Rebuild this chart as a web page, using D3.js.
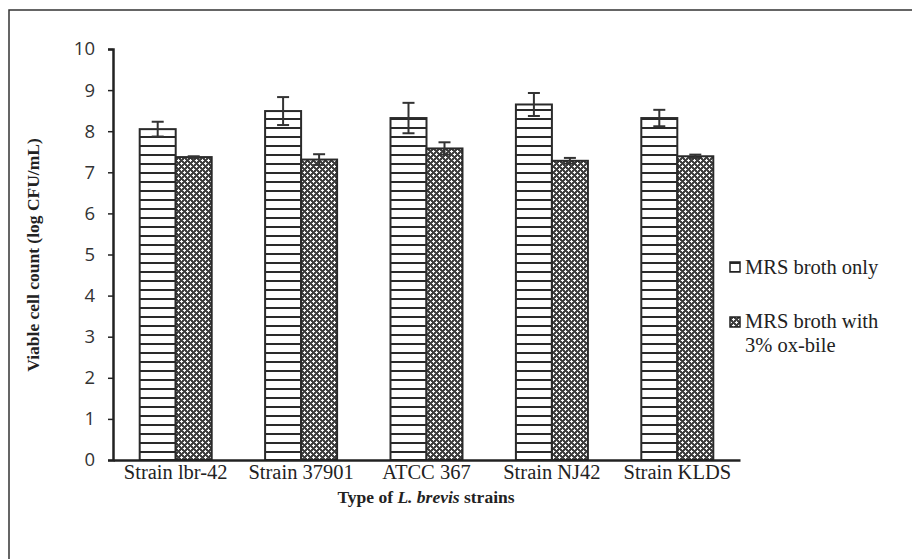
<!DOCTYPE html>
<html><head><meta charset="utf-8">
<script src="https://cdn.jsdelivr.net/npm/d3@7"></script>
<style>body{margin:0;background:#fff}</style>
</head><body>
<svg id="c" width="912" height="559"></svg>
<script>
const categories = ["Strain lbr-42", "Strain 37901", "ATCC 367", "Strain NJ42", "Strain KLDS"];
const mrsValues = [8.05, 8.49, 8.32, 8.65, 8.32];
const mrsErrors = [0.18, 0.34, 0.37, 0.28, 0.2];
const bileValues = [7.37, 7.31, 7.58, 7.28, 7.39];
const bileErrors = [0.02, 0.13, 0.15, 0.07, 0.04];
const yTicks = [0,1,2,3,4,5,6,7,8,9,10];
const seriesNames = ["MRS broth only", "MRS broth with 3% ox-bile"];

const svg = d3.select("#c");
const mLeft = 113, mRight = 740, mTop = 49, mBottom = 460;

// outer frame
svg.append("rect").attr("x",9).attr("y",10).attr("width",950).attr("height",600)
  .attr("fill","none").attr("stroke","#333").attr("stroke-width",1.5);

const defs = svg.append("defs");
const hp = defs.append("pattern").attr("id","hstripe").attr("patternUnits","userSpaceOnUse")
  .attr("width",8).attr("height",9).attr("y", mBottom);
hp.append("rect").attr("width",8).attr("height",9).attr("fill","#fff");
hp.append("rect").attr("y",0).attr("width",8).attr("height",2).attr("fill","#2a2a2a");

const cp = defs.append("pattern").attr("id","cross").attr("patternUnits","userSpaceOnUse")
  .attr("width",6).attr("height",6);
cp.append("rect").attr("width",6).attr("height",6).attr("fill","#3c3c3c");
[[1.5,1.5],[4.5,4.5]].forEach(([a,b])=>{
  cp.append("rect").attr("x",a-1.6).attr("y",b-0.5).attr("width",3.2).attr("height",1).attr("fill","#f4f4f4");
  cp.append("rect").attr("x",a-0.5).attr("y",b-1.6).attr("width",1).attr("height",3.2).attr("fill","#f4f4f4");
  cp.append("circle").attr("cx",a).attr("cy",b).attr("r",0.9).attr("fill","#fff");
});

const x = d3.scaleBand().domain(categories).range([mLeft,mRight]);
const y = d3.scaleLinear().domain([0,10]).range([mBottom,mTop]);
const bw = 36;

const yAxis = d3.axisLeft(y).tickValues(yTicks).tickSize(5).tickPadding(13).tickFormat(d3.format("d"));
const gy = svg.append("g").attr("transform",`translate(${mLeft},0)`).call(yAxis);
gy.select(".domain").attr("stroke","#222").attr("stroke-width",2.5);
gy.selectAll(".tick line").attr("stroke","#222").attr("stroke-width",1.5);
gy.selectAll(".tick text").attr("font-family","'Open Sans', sans-serif").attr("font-size",18.5).attr("fill","#333");

const g = svg.append("g");
categories.forEach((c,i)=>{
  const cx = x(c) + x.bandwidth()/2;
  g.append("rect").attr("x",cx-bw).attr("y",y(mrsValues[i])).attr("width",bw)
    .attr("height",y(0)-y(mrsValues[i])).attr("fill","url(#hstripe)").attr("stroke","#2a2a2a").attr("stroke-width",2);
  g.append("rect").attr("x",cx).attr("y",y(bileValues[i])).attr("width",bw)
    .attr("height",y(0)-y(bileValues[i])).attr("fill","url(#cross)").attr("stroke","#2a2a2a").attr("stroke-width",2);
  [[cx-bw/2, mrsValues[i], mrsErrors[i]],[cx+bw/2, bileValues[i], bileErrors[i]]].forEach(([ex,v,e])=>{
    g.append("line").attr("x1",ex).attr("x2",ex).attr("y1",y(v+e)).attr("y2",y(v-e)).attr("stroke","#333").attr("stroke-width",2);
    [v+e,v-e].forEach(t=>g.append("line").attr("x1",ex-6).attr("x2",ex+6).attr("y1",y(t)).attr("y2",y(t)).attr("stroke","#333").attr("stroke-width",2));
  });
});

const xAxis = d3.axisBottom(x).tickSize(0).tickPadding(4);
const gx = svg.append("g").attr("transform",`translate(0,${mBottom})`).call(xAxis);
gx.select(".domain").attr("stroke","#222").attr("stroke-width",2.5);
gx.selectAll(".tick text").attr("font-family","'Liberation Serif', serif").attr("font-size",20.5).attr("fill","#222");

svg.append("text").attr("x",426).attr("y",503).attr("text-anchor","middle")
  .attr("font-family","'Liberation Serif', serif").attr("font-weight","bold").attr("font-size",17.5).attr("fill","#222")
  .html('Type of <tspan font-style="italic">L. brevis</tspan> strains');

svg.append("text").attr("transform","translate(39,255) rotate(-90)").attr("text-anchor","middle")
  .attr("font-family","'Liberation Serif', serif").attr("font-weight","bold").attr("font-size",17.5).attr("fill","#222")
  .text("Viable cell count (log CFU/mL)");

// legend
const lg = svg.append("g").attr("font-family","'Liberation Serif', serif").attr("font-size",20.5).attr("fill","#222");
lg.append("rect").attr("x",730).attr("y",262).attr("width",10).attr("height",10).attr("fill","url(#hstripe)").attr("stroke","#222").attr("stroke-width",1.5);
lg.append("text").attr("x",745).attr("y",274).text(seriesNames[0]);
lg.append("rect").attr("x",730).attr("y",317).attr("width",10).attr("height",10).attr("fill","url(#cross)").attr("stroke","#222").attr("stroke-width",1.5);
lg.append("text").attr("x",745).attr("y",328).text("MRS broth with");
lg.append("text").attr("x",745).attr("y",352).text("3% ox-bile");
</script>
</body></html>
